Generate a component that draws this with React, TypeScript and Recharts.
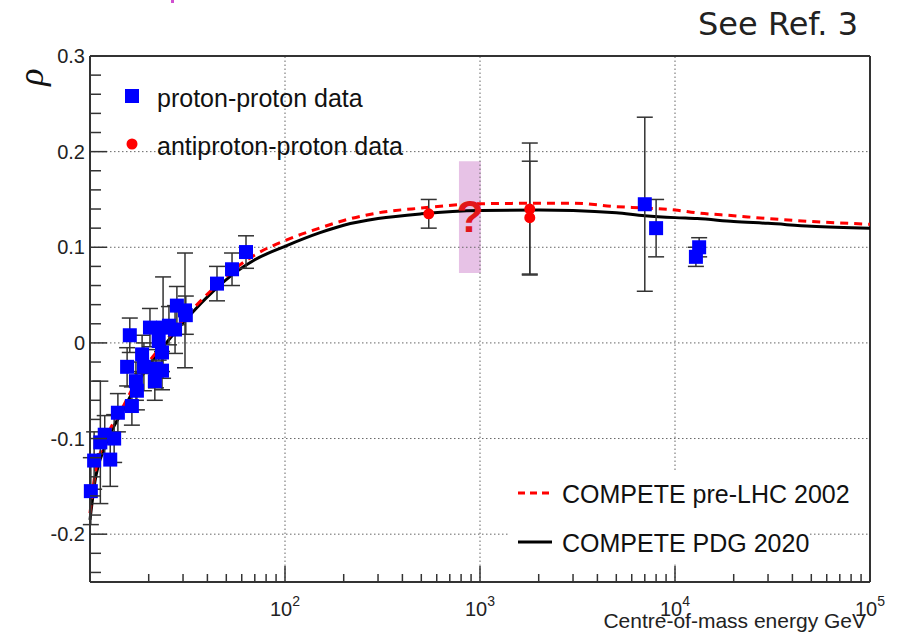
import React from 'react';
import {
  ComposedChart,
  Line,
  Scatter,
  XAxis,
  YAxis,
  ErrorBar,
  ReferenceLine,
  ReferenceArea,
} from 'recharts';

// COMPETE fits
const curveE = [10, 10.6, 12, 15, 18, 20, 24, 30, 35, 45, 55, 70, 100, 150, 200, 300, 500, 1000, 2000, 3000, 5000, 7000, 10000, 13000, 20000, 30000, 50000, 100000];
const rhoPDG2020 = [-0.185, -0.145, -0.107, -0.068, -0.038, -0.024, -0.003, 0.021, 0.036, 0.058, 0.073, 0.087, 0.101, 0.115, 0.123, 0.13, 0.135, 0.1385, 0.139, 0.1385, 0.136, 0.133, 0.131, 0.13, 0.127, 0.125, 0.122, 0.12];
const rhoPreLHC2002 = [-0.178, -0.138, -0.102, -0.064, -0.034, -0.02, 0.0, 0.024, 0.039, 0.061, 0.077, 0.092, 0.107, 0.12, 0.128, 0.136, 0.141, 0.1455, 0.146, 0.146, 0.1425, 0.141, 0.139, 0.136, 0.133, 0.13, 0.127, 0.124];

// proton-proton measurements
const ppE = [10.1, 10.5, 11.3, 11.9, 12.7, 13.3, 13.9, 15.5, 16.0, 16.4, 17.2, 17.4, 18.5, 18.9, 20.3, 21.5, 21.8, 22.5, 23.4, 23.4, 23.7, 25.4, 27.3, 27.9, 30.7, 31.0, 44.8, 53.5, 63.1, 7000, 8000, 12800, 13300];
const ppRho = [-0.155, -0.123, -0.104, -0.096, -0.122, -0.1, -0.073, -0.025, 0.008, -0.066, -0.04, -0.05, -0.012, -0.025, 0.016, -0.04, -0.027, 0.002, -0.01, -0.029, 0.016, 0.018, 0.014, 0.039, 0.034, 0.029, 0.062, 0.077, 0.095, 0.145, 0.12, 0.09, 0.1];
const ppErr = [0.035, 0.03, 0.064, 0.02, 0.028, 0.025, 0.02, 0.02, 0.018, 0.02, 0.02, 0.02, 0.02, 0.025, 0.02, 0.02, 0.02, 0.02, 0.02, 0.02, 0.053, 0.02, 0.025, 0.02, 0.06, 0.02, 0.018, 0.017, 0.017, 0.091, 0.03, 0.01, 0.01];

// antiproton-proton measurements
const pbarE = [546, 1800, 1800];
const pbarRho = [0.135, 0.14, 0.131];
const pbarErr = [0.015, 0.069, 0.059];

const xTicks = [20, 30, 40, 50, 60, 70, 80, 90, 100, 200, 300, 400, 500, 600, 700, 800, 900, 1000, 2000, 3000, 4000, 5000, 6000, 7000, 8000, 9000, 10000, 20000, 30000, 40000, 50000, 60000, 70000, 80000, 90000, 100000];
const xMajor = [100, 1000, 10000, 100000];
const xMajorExp = ['2', '3', '4', '5'];
const yTicks = [-0.24, -0.22, -0.2, -0.18, -0.16, -0.14, -0.12, -0.1, -0.08, -0.06, -0.04, -0.02, 0, 0.02, 0.04, 0.06, 0.08, 0.1, 0.12, 0.14, 0.16, 0.18, 0.2, 0.22, 0.24, 0.26, 0.28, 0.3];
const yMajor = [-0.2, -0.1, 0, 0.1, 0.2, 0.3];
const yMajorLabels = ['-0.2', '-0.1', '0', '0.1', '0.2', '0.3'];

const curve2020 = curveE.map((E, i) => ({ E, rho: rhoPDG2020[i] }));
const curve2002 = curveE.map((E, i) => ({ E, rho: rhoPreLHC2002[i] }));
const ppData = ppE.map((E, i) => ({ E, rho: ppRho[i], err: ppErr[i] }));
const pbarData = pbarE.map((E, i) => ({ E, rho: pbarRho[i], err: pbarErr[i] }));

const FONT = '"Liberation Sans", Arial, Helvetica, sans-serif';
const AXIS = '#333';

const YTick = (props: any) => {
  const { x, y, payload } = props;
  const idx = yMajor.indexOf(payload.value);
  const major = idx >= 0;
  return (
    <g>
      <line x1={x} x2={x + (major ? 17 : 11)} y1={y} y2={y} stroke={AXIS} strokeWidth={1.5} />
      {major && (
        <text x={x - 5} y={y + 7} textAnchor="end" fontSize={20} fill="#222" fontFamily={FONT}>
          {yMajorLabels[idx]}
        </text>
      )}
    </g>
  );
};

const XTick = (props: any) => {
  const { x, y, payload } = props;
  const idx = xMajor.indexOf(payload.value);
  const major = idx >= 0;
  return (
    <g>
      <line x1={x} x2={x} y1={y} y2={y - (major ? 16 : 8)} stroke={AXIS} strokeWidth={1.5} />
      {major && (
        <text x={x - 15} y={y + 34} fontSize={20} fill="#222" fontFamily={FONT}>
          10
          <tspan dy={-10} fontSize={14}>{xMajorExp[idx]}</tspan>
        </text>
      )}
    </g>
  );
};

const BlueSquare = (p: any) => (
  <rect x={p.cx - 7} y={p.cy - 7} width={14} height={14} fill="#0000ff" />
);
const RedDot = (p: any) => <circle cx={p.cx} cy={p.cy} r={5.5} fill="#ff0000" />;

export default function App() {
  return (
    <div style={{ position: 'absolute', left: 0, top: 0, width: 899, height: 632, background: '#fff' }}>
      <ComposedChart width={899} height={632} margin={{ top: 56, right: 29, bottom: 49, left: 89 }}>
        <XAxis
          dataKey="E"
          type="number"
          scale="log"
          domain={[10, 100000]}
          ticks={xTicks}
          interval={0}
          tick={XTick}
          tickLine={false}
          tickSize={0}
          tickMargin={0}
          height={1}
          axisLine={{ stroke: AXIS, strokeWidth: 2 }}
        />
        <YAxis
          dataKey="rho"
          type="number"
          domain={[-0.25, 0.3]}
          ticks={yTicks}
          interval={0}
          tick={YTick}
          tickLine={false}
          tickSize={0}
          tickMargin={0}
          width={1}
          axisLine={{ stroke: AXIS, strokeWidth: 2 }}
        />
        {yMajor.slice(0, 5).map((v) => (
          <ReferenceLine key={'gy' + v} y={v} stroke="#666" strokeDasharray="1.5 2.5" />
        ))}
        {xMajor.slice(0, 3).map((v) => (
          <ReferenceLine key={'gx' + v} x={v} stroke="#666" strokeDasharray="1.5 2.5" />
        ))}
        <ReferenceLine y={0.3} stroke={AXIS} strokeWidth={2} />
        <ReferenceLine x={100000} stroke={AXIS} strokeWidth={2} />
        <Line data={curve2020} dataKey="rho" type="monotone" stroke="#000" strokeWidth={3} dot={false} isAnimationActive={false} />
        <Line data={curve2002} dataKey="rho" type="monotone" stroke="#ff0000" strokeWidth={3} strokeDasharray="8 6" dot={false} isAnimationActive={false} />
        <Scatter data={ppData} dataKey="rho" shape={BlueSquare} isAnimationActive={false}>
          <ErrorBar dataKey="err" direction="y" width={8} stroke="#333" strokeWidth={1.5} />
        </Scatter>
        <Scatter data={pbarData} dataKey="rho" shape={RedDot} isAnimationActive={false}>
          <ErrorBar dataKey="err" direction="y" width={8} stroke="#333" strokeWidth={1.5} />
        </Scatter>
        <ReferenceArea x1={780} x2={1010} y1={0.073} y2={0.19} fill="#d48fd2" fillOpacity={0.55} stroke="none" />
      </ComposedChart>
      <svg width={899} height={632} style={{ position: 'absolute', left: 0, top: 0, pointerEvents: 'none' }}>
        <rect x={171} y={0} width={3} height={3} fill="#d050d0" />
        <text x={858} y={35} textAnchor="end" fontSize={32} fill="#222" fontFamily='"DejaVu Sans", sans-serif'>
          See Ref. 3
        </text>
        <text
          x={43}
          y={77}
          textAnchor="middle"
          fontSize={36}
          fontStyle="italic"
          fill="#111"
          fontFamily='"Liberation Serif", "DejaVu Serif", serif'
          transform="rotate(-90 43 77)"
        >
          ρ
        </text>
        <text x={470} y={232} textAnchor="middle" fontSize={44} fontWeight={700} fill="#e2161b" fontFamily={FONT}>
          ?
        </text>
        {/* top-left legend */}
        <rect x={125} y={89} width={14} height={14} fill="#0000ff" />
        <text x={157} y={107} fontSize={25} fill="#111" fontFamily={FONT}>proton-proton data</text>
        <circle cx={132} cy={144} r={5.5} fill="#ff0000" />
        <text x={157} y={155} fontSize={25} fill="#111" fontFamily={FONT}>antiproton-proton data</text>
        {/* bottom-right legend */}
        <rect x={508} y={470} width={350} height={50} fill="#fff" />
        <rect x={508} y={520} width={300} height={44} fill="#fff" />
        <line x1={518} x2={552} y1={493} y2={493} stroke="#ff0000" strokeWidth={3} strokeDasharray="7 5" />
        <text x={562} y={503} fontSize={25} fill="#111" fontFamily={FONT}>COMPETE pre-LHC 2002</text>
        <line x1={518} x2={552} y1={542} y2={542} stroke="#000" strokeWidth={3} />
        <text x={562} y={552} fontSize={25} fill="#111" fontFamily={FONT}>COMPETE PDG 2020</text>
        <text x={866} y={628} textAnchor="end" fontSize={21} fill="#222" fontFamily={FONT}>
          Centre-of-mass energy GeV
        </text>
      </svg>
    </div>
  );
}
